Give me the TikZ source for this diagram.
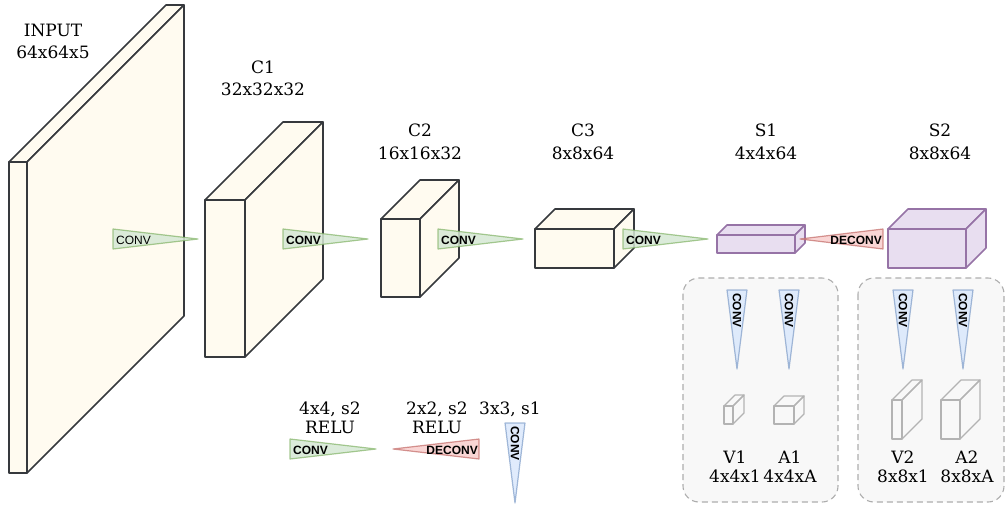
\documentclass[tikz,border=0pt]{standalone}
\usepackage{fontspec}
\setmainfont{DejaVu Serif}
\newfontfamily\trifont{Liberation Sans}
\definecolor{cubefill}{HTML}{FFFBF0}
\definecolor{cubedraw}{HTML}{36393D}
\definecolor{purfill}{HTML}{E8DEF0}
\definecolor{purdraw}{HTML}{9673A6}
\definecolor{gfill}{HTML}{D5E8D4}
\definecolor{gdraw}{HTML}{82B366}
\definecolor{rfill}{HTML}{F8CECC}
\definecolor{rdraw}{HTML}{B85450}
\definecolor{bfill}{HTML}{DAE8FC}
\definecolor{bdraw}{HTML}{6C8EBF}
\definecolor{boxfill}{HTML}{F8F8F8}
\definecolor{boxdraw}{HTML}{ADADAD}
\definecolor{smalldraw}{HTML}{B3B3B3}
\newcommand{\drawcube}[6]{%
  \draw[#1] (#2,#3) rectangle (#4,#5);
  \draw[#1] (#2,#3) -- (#2+#6,#3-#6) -- (#4+#6,#3-#6) -- (#4,#3) -- cycle;
  \draw[#1] (#4,#3) -- (#4+#6,#3-#6) -- (#4+#6,#5-#6) -- (#4,#5) -- cycle;}
\newcommand{\trih}[4]{% style, base x, tip x, y
  \draw[#1] (#2,#4-10) -- (#3,#4) -- (#2,#4+10) -- cycle;}
\newcommand{\triv}[4]{% style, x, base y, tip y
  \draw[#1] (#2-10,#3) -- (#2,#4) -- (#2+10,#3) -- cycle;}
\tikzset{
  bigcube/.style={draw=cubedraw, fill=cubefill, line width=1.6pt, line join=round},
  purcube/.style={draw=purdraw, fill=purfill, line width=1.6pt, line join=round},
  smallcube/.style={draw=smalldraw, line width=1.2pt, line join=round},
  gtri/.style={draw=gdraw, fill=gfill, line width=1.2pt, fill opacity=0.85, draw opacity=0.7, line join=round},
  rtri/.style={draw=rdraw, fill=rfill, line width=1.2pt, fill opacity=0.85, draw opacity=0.6, line join=round},
  btri/.style={draw=bdraw, fill=bfill, line width=1.2pt, fill opacity=0.85, draw opacity=0.6, line join=round},
  dbox/.style={draw=boxdraw, fill=boxfill, line width=1.1pt, dash pattern=on 6pt off 4pt, rounded corners=16pt},
  lbl/.style={anchor=base, inner sep=0pt, font=\fontsize{17}{20}\selectfont},
  tlbl/.style={inner sep=0pt, font=\fontsize{12}{14}\selectfont\trifont\bfseries},
  tlblr/.style={inner sep=0pt, font=\fontsize{12}{14}\selectfont\trifont},
}
\begin{document}
\begin{tikzpicture}[x=1pt, y=-1pt]
\useasboundingbox (0,0) rectangle (1005,504);

% dashed group boxes
\draw[dbox] (683,278) rectangle (838,502);
\draw[dbox] (858,278) rectangle (1004,502);

% main cubes
\drawcube{bigcube}{9}{162}{27}{473}{157}
\drawcube{bigcube}{205}{200}{245}{357}{78}
\drawcube{bigcube}{381}{219}{420}{297}{39}
\drawcube{bigcube}{535}{229}{614}{268}{20}
\drawcube{purcube}{717}{235}{795}{253}{10}
\drawcube{purcube}{888}{229}{966}{268}{20}

% small output cubes
\drawcube{smallcube}{724}{406}{733}{424}{11}
\drawcube{smallcube}{774}{406}{794}{424}{10}
\drawcube{smallcube}{892}{400}{902}{439}{20}
\drawcube{smallcube}{941}{400}{960}{439}{20}

% horizontal operation triangles
\trih{gtri}{113}{198}{239}
\trih{gtri}{283}{368}{239}
\trih{gtri}{438}{523}{239}
\trih{gtri}{623}{708}{239}
\trih{rtri}{883}{800}{239}
\node[tlblr, anchor=west] (t0) at (116,240) {CONV};
\node[tlbl, anchor=west] (t1) at (286,240) {CONV};
\node[tlbl, anchor=west] (t2) at (441,240) {CONV};
\node[tlbl, anchor=west] (t3) at (626,240) {CONV};
\node[tlbl, anchor=east] (t4) at (882,240) {DECONV};

% vertical triangles
\triv{btri}{737}{290}{369}
\triv{btri}{789}{290}{369}
\triv{btri}{903}{290}{369}
\triv{btri}{963}{290}{369}
\node[tlbl, rotate=-90, anchor=west] (v1t) at (737,293) {CONV};
\node[tlbl, rotate=-90, anchor=west] (a1t) at (789,293) {CONV};
\node[tlbl, rotate=-90, anchor=west] (v2t) at (903,293) {CONV};
\node[tlbl, rotate=-90, anchor=west] (a2t) at (963,293) {CONV};

% legend
\trih{gtri}{290}{376}{449}
\trih{rtri}{479}{393}{449}
\triv{btri}{515}{423}{503}
\node[tlbl, anchor=west] (lg1) at (293,450) {CONV};
\node[tlbl, anchor=east] (lg2) at (478,450) {DECONV};
\node[tlbl, rotate=-90, anchor=west] (lg3) at (515,426) {CONV};

% labels
\node[lbl] (in1) at (53,36) {INPUT};
\node[lbl] (in2) at (53,58) {64x64x5};
\node[lbl] (c11) at (263,73) {C1};
\node[lbl] (c12) at (263,95) {32x32x32};
\node[lbl] (c21) at (420,136) {C2};
\node[lbl] (c22) at (420,159) {16x16x32};
\node[lbl] (c31) at (583,136) {C3};
\node[lbl] (c32) at (583,159) {8x8x64};
\node[lbl] (s11) at (766,136) {S1};
\node[lbl] (s12) at (766,159) {4x4x64};
\node[lbl] (s21) at (940,136) {S2};
\node[lbl] (s22) at (940,159) {8x8x64};
\node[lbl] (v1a) at (735,463) {V1};
\node[lbl] (v1b) at (735,482) {4x4x1};
\node[lbl] (a1a) at (790,463) {A1};
\node[lbl] (a1b) at (790,482) {4x4xA};
\node[lbl] (v2a) at (903,463) {V2};
\node[lbl] (v2b) at (903,482) {8x8x1};
\node[lbl] (a2a) at (967,463) {A2};
\node[lbl] (a2b) at (967,482) {8x8xA};
\node[lbl] (l1a) at (330,414) {4x4, s2};
\node[lbl] (l1b) at (330,433) {RELU};
\node[lbl] (l2a) at (437,414) {2x2, s2};
\node[lbl] (l2b) at (437,433) {RELU};
\node[lbl] (l3a) at (510,414) {3x3, s1};
\end{tikzpicture}
\end{document}
